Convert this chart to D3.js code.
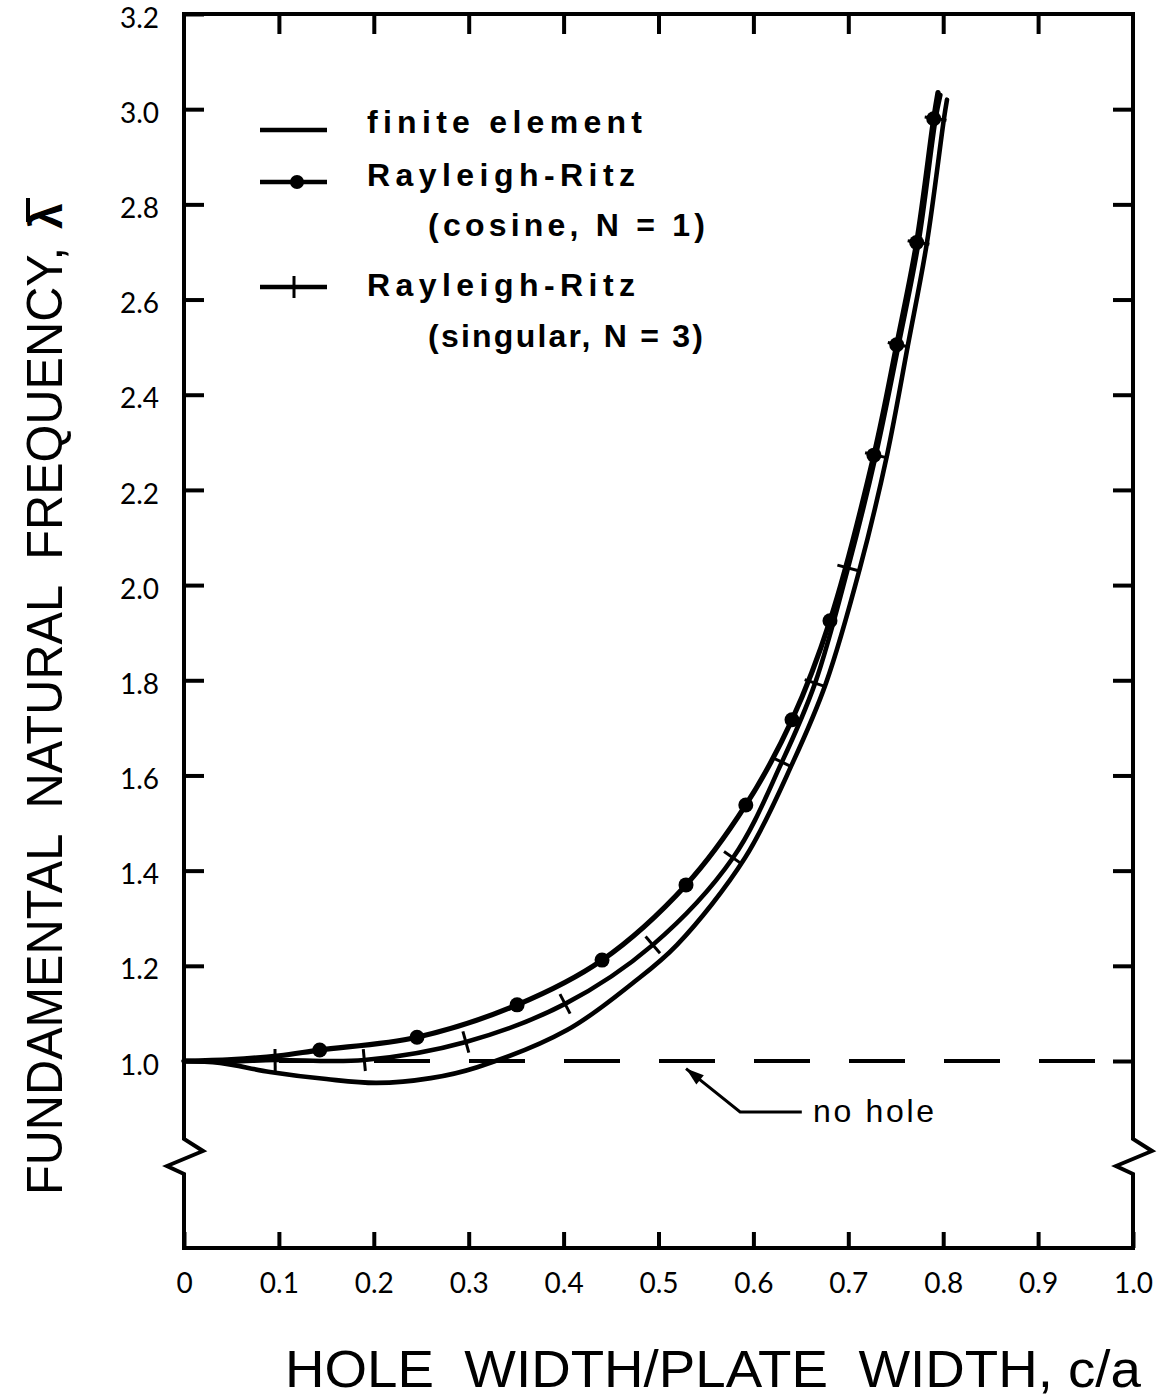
<!DOCTYPE html>
<html>
<head>
<meta charset="utf-8">
<script src="https://cdn.jsdelivr.net/npm/d3@7"></script>
<style>
  body { margin: 0; background: #fff; }
  svg { display: block; }
</style>
</head>
<body>
<svg id="chart" width="1170" height="1399"></svg>
<script>
(function() {
  'use strict';

  // axis ticks and labels
  var xTicks = [0, 0.1, 0.2, 0.3, 0.4, 0.5, 0.6, 0.7, 0.8, 0.9, 1.0];
  var xTickLabels = ["0", "0.1", "0.2", "0.3", "0.4", "0.5", "0.6", "0.7", "0.8", "0.9", "1.0"];
  var yTicks = [1.0, 1.2, 1.4, 1.6, 1.8, 2.0, 2.2, 2.4, 2.6, 2.8, 3.0, 3.2];
  var yTickLabels = ["1.0", "1.2", "1.4", "1.6", "1.8", "2.0", "2.2", "2.4", "2.6", "2.8", "3.0", "3.2"];

  // finite element curve
  var feX = [0, 0.038, 0.0906, 0.15, 0.203, 0.26, 0.309, 0.4036, 0.473, 0.5195, 0.5912, 0.6417, 0.6765, 0.7123, 0.7408, 0.7629, 0.7829, 0.8008, 0.804];
  var feY = [1.0, 0.996, 0.977, 0.962, 0.954, 0.964, 0.987, 1.065, 1.164, 1.244, 1.427, 1.628, 1.794, 2.036, 2.273, 2.505, 2.720, 2.980, 3.020];

  // Rayleigh-Ritz cosine N=1 : curve ends + dotted points
  var cosLineX = [0, 0.05, 0.10, 0.7945];
  var cosLineY = [1.0, 1.003, 1.011, 3.035];
  var cosDotX = [0.143, 0.2455, 0.351, 0.4405, 0.529, 0.592, 0.6407, 0.6807, 0.727, 0.751, 0.772, 0.790];
  var cosDotY = [1.023, 1.050, 1.118, 1.212, 1.370, 1.538, 1.717, 1.925, 2.273, 2.505, 2.720, 2.980];

  // Rayleigh-Ritz singular N=3 : curve ends + tick-marked points
  var singLineX = [0, 0.05, 0.797];
  var singLineY = [1.0, 0.999, 3.03];
  var singMarkX = [0.096, 0.19, 0.297, 0.4015, 0.494, 0.5785, 0.630, 0.665, 0.6997, 0.729, 0.753, 0.774, 0.792];
  var singMarkY = [1.002, 1.002, 1.040, 1.120, 1.244, 1.427, 1.628, 1.794, 2.036, 2.273, 2.505, 2.720, 2.980];

  var noHole = 1.0;

  var W = 1170, H = 1399;
  var plotBottom = 1248;
  var x = d3.scaleLinear().domain([0, 1]).range([184, 1133]);
  var y = d3.scaleLinear().domain([1, 3.2]).range([1061, 14]);

  var svg = d3.select("#chart");
  svg.append("rect").attr("width", W).attr("height", H).attr("fill", "#fff");

  function zip(xs, ys) {
    return xs.map(function(v, i) { return [v, ys[i]]; });
  }
  function merged(ax, ay, bx, by) {
    return zip(ax, ay).concat(zip(bx, by)).sort(function(a, b) { return a[0] - b[0]; });
  }

  // frame with axis break zigzags
  var zig = [[0, 1139], [19, 1151], [-17, 1166], [0, 1174]];
  var x0 = x(0), x1 = x(1), top = y(3.2);
  var frame = [[x0, top]];
  zig.forEach(function(p) { frame.push([x0 + p[0], p[1]]); });
  frame.push([x0, plotBottom], [x1, plotBottom]);
  zig.slice().reverse().forEach(function(p) { frame.push([x1 + p[0], p[1]]); });
  frame.push([x1, top]);
  svg.append("path")
    .attr("d", d3.line()(frame) + "Z")
    .attr("fill", "none")
    .attr("stroke", "#000")
    .attr("stroke-width", 4)
    .attr("stroke-linejoin", "miter");

  // axes
  var tickFont = "Lato, 'DejaVu Sans', sans-serif";
  var gl = svg.append("g").attr("transform", "translate(" + x0 + ",0)")
    .call(d3.axisLeft(y).tickValues(yTicks).tickSize(-20).tickPadding(25)
      .tickFormat(function(d, i) { return yTickLabels[i]; }));
  var gb = svg.append("g").attr("transform", "translate(0," + plotBottom + ")")
    .call(d3.axisBottom(x).tickValues(xTicks).tickSize(-16).tickPadding(25)
      .tickFormat(function(d, i) { return xTickLabels[i]; }));
  var gt = svg.append("g").attr("transform", "translate(0," + top + ")")
    .call(d3.axisTop(x).tickValues(xTicks.slice(1, -1)).tickSize(-20).tickFormat(""));
  var gr = svg.append("g").attr("transform", "translate(" + x1 + ",0)")
    .call(d3.axisRight(y).tickValues(yTicks.slice(0, -1)).tickSize(-20).tickFormat(""));

  [gl, gb, gt, gr].forEach(function(g) {
    g.select(".domain").remove();
    g.selectAll(".tick line").attr("stroke", "#000").attr("stroke-width", 4);
    g.attr("font-family", tickFont).attr("font-size", 28);
    g.selectAll(".tick text").attr("fill", "#000");
  });
  gl.selectAll(".tick text").attr("dy", "0.47em");

  // "no hole" dashed reference line
  svg.append("line")
    .attr("x1", x(0)).attr("x2", x(1))
    .attr("y1", y(noHole)).attr("y2", y(noHole))
    .attr("stroke", "#000")
    .attr("stroke-width", 4)
    .attr("stroke-dasharray", "56,39");

  var line = d3.line()
    .x(function(d) { return x(d[0]); })
    .y(function(d) { return y(d[1]); })
    .curve(d3.curveCatmullRom.alpha(0.5));

  var fePts = zip(feX, feY);
  var cosPts = merged(cosLineX, cosLineY, cosDotX, cosDotY);
  var singPts = merged(singLineX, singLineY, singMarkX, singMarkY);

  [fePts, singPts, cosPts].forEach(function(pts, i) {
    svg.append("path")
      .datum(pts)
      .attr("d", line)
      .attr("fill", "none")
      .attr("stroke", "#000")
      .attr("stroke-width", i === 2 ? 5.2 : 4.6)
      .attr("stroke-linecap", "round");
  });

  // dots on cosine curve
  svg.selectAll("circle.cos")
    .data(zip(cosDotX, cosDotY))
    .enter().append("circle")
      .attr("class", "cos")
      .attr("cx", function(d) { return x(d[0]); })
      .attr("cy", function(d) { return y(d[1]); })
      .attr("r", 7.5)
      .attr("fill", "#000");

  // tick marks across singular curve, perpendicular to its local direction
  var singMarks = zip(singMarkX, singMarkY).map(function(d) {
    var k = singPts.findIndex(function(p) { return p[0] === d[0]; });
    var a = singPts[Math.max(k - 1, 0)], b = singPts[Math.min(k + 1, singPts.length - 1)];
    var dx = x(b[0]) - x(a[0]), dy = y(b[1]) - y(a[1]);
    var len = Math.sqrt(dx * dx + dy * dy);
    var nx = -dy / len, ny = dx / len, h = 11;
    var cx = x(d[0]), cy = y(d[1]);
    return [cx - nx * h, cy - ny * h, cx + nx * h, cy + ny * h];
  });
  svg.selectAll("line.sing")
    .data(singMarks)
    .enter().append("line")
      .attr("class", "sing")
      .attr("x1", function(d) { return d[0]; })
      .attr("y1", function(d) { return d[1]; })
      .attr("x2", function(d) { return d[2]; })
      .attr("y2", function(d) { return d[3]; })
      .attr("stroke", "#000")
      .attr("stroke-width", 3);

  // legend
  var legFont = "'Liberation Sans', Arial, sans-serif";
  var leg = svg.append("g").attr("stroke", "#000").attr("stroke-width", 4.5);
  leg.append("line").attr("x1", 260).attr("x2", 327).attr("y1", 130).attr("y2", 130);
  leg.append("line").attr("x1", 260).attr("x2", 327).attr("y1", 182).attr("y2", 182);
  leg.append("circle").attr("cx", 297).attr("cy", 182).attr("r", 7).attr("fill", "#000").attr("stroke", "none");
  leg.append("line").attr("x1", 260).attr("x2", 327).attr("y1", 287).attr("y2", 287);
  leg.append("line").attr("x1", 294).attr("x2", 294).attr("y1", 276).attr("y2", 298).attr("stroke-width", 3);

  var legTexts = [
    { t: "finite element", x: 367, y: 133, w: 275 },
    { t: "Rayleigh-Ritz", x: 367, y: 186, w: 268 },
    { t: "(cosine, N = 1)", x: 428, y: 236, w: 277 },
    { t: "Rayleigh-Ritz", x: 367, y: 296, w: 268 },
    { t: "(singular, N = 3)", x: 428, y: 347, w: 275 }
  ];
  svg.selectAll("text.leg")
    .data(legTexts)
    .enter().append("text")
      .attr("class", "leg")
      .attr("x", function(d) { return d.x; })
      .attr("y", function(d) { return d.y; })
      .attr("textLength", function(d) { return d.w; })
      .attr("lengthAdjust", "spacing")
      .attr("font-family", legFont)
      .attr("font-weight", "bold")
      .attr("font-size", 32)
      .text(function(d) { return d.t; });

  // "no hole" annotation with arrow
  var tip = [x(0.529), y(0.984)], elbow = [x(0.586), y(0.893)], tail = [x(0.651), y(0.893)];
  svg.append("path")
    .attr("d", d3.line()([tail, elbow, tip]))
    .attr("fill", "none").attr("stroke", "#000").attr("stroke-width", 3);
  var ax = tip[0] - elbow[0], ay = tip[1] - elbow[1], al = Math.sqrt(ax * ax + ay * ay);
  var ux = ax / al, uy = ay / al;
  var head = [
    tip,
    [tip[0] - ux * 18 - uy * 6, tip[1] - uy * 18 + ux * 6],
    [tip[0] - ux * 18 + uy * 6, tip[1] - uy * 18 - ux * 6]
  ];
  svg.append("path").attr("d", d3.line()(head) + "Z").attr("fill", "#000");
  svg.append("text")
    .attr("x", 813).attr("y", 1122)
    .attr("textLength", 121).attr("lengthAdjust", "spacing")
    .attr("font-family", legFont).attr("font-size", 32)
    .text("no hole");

  // axis titles
  var titleFont = "'Liberation Sans', Arial, sans-serif";
  svg.append("text")
    .attr("transform", "translate(62,1195) rotate(-90)")
    .attr("font-family", titleFont).attr("font-size", 50)
    .attr("textLength", 948).attr("lengthAdjust", "spacingAndGlyphs")
    .style("white-space", "pre")
    .text("FUNDAMENTAL  NATURAL  FREQUENCY,");
  svg.append("text")
    .attr("transform", "translate(62,229) rotate(-90)")
    .attr("font-family", titleFont).attr("font-size", 46).attr("font-weight", "bold")
    .text("λ");
  svg.append("line")
    .attr("x1", 28).attr("x2", 28).attr("y1", 198).attr("y2", 222)
    .attr("stroke", "#000").attr("stroke-width", 4);

  svg.append("text")
    .attr("x", 285).attr("y", 1387)
    .attr("font-family", titleFont).attr("font-size", 52)
    .attr("textLength", 856).attr("lengthAdjust", "spacingAndGlyphs")
    .style("white-space", "pre")
    .text("HOLE  WIDTH/PLATE  WIDTH, c/a");
})();
</script>
</body>
</html>
